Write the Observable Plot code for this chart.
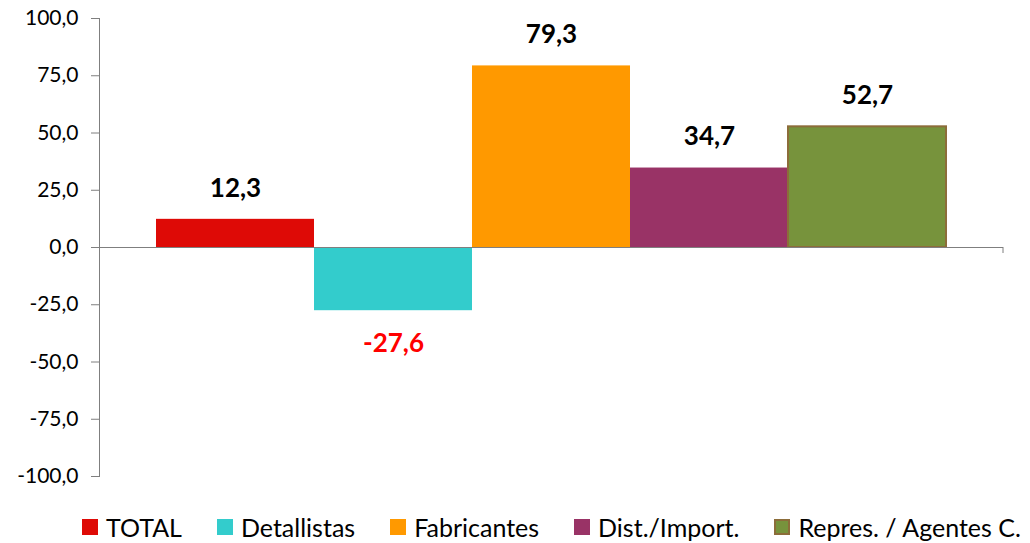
<!DOCTYPE html>
<html>
<head>
<meta charset="utf-8">
<script src="https://cdn.jsdelivr.net/npm/d3@7"></script>
<script src="https://cdn.jsdelivr.net/npm/@observablehq/plot@0.6"></script>
<style>
  html, body { margin: 0; padding: 0; background: #fff; }
  #chart { width: 1030px; }
  .legend { display: flex; align-items: center; height: 53px; margin-top: 10px; padding-left: 82px; font-family: Lato, "Open Sans", sans-serif; font-size: 25px; color: #000; white-space: nowrap; }
  .legend .item { display: flex; align-items: center; margin-right: 35px; }
  .legend .sw { width: 16px; height: 16px; margin-right: 8px; box-sizing: border-box; }
</style>
</head>
<body>
<div id="chart"></div>
<script>
const series = ["TOTAL", "Detallistas", "Fabricantes", "Dist./Import.", "Repres. / Agentes C."];
const values = [12.3, -27.6, 79.3, 34.7, 52.7];
const colors = ["#DE0A06", "#33CCCC", "#FF9900", "#993366", "#77933C"];
const strokes = ["none", "none", "none", "none", "#8C6D3A"];
const labelColors = ["#000", "#FF0000", "#000", "#000", "#000"];
const yTicks = [-100, -75, -50, -25, 0, 25, 50, 75, 100];

const data = series.map((s, i) => ({ s, v: values[i], fill: colors[i], stroke: strokes[i], lc: labelColors[i] }));
const fmt = v => v.toFixed(1).replace(".", ",");

const xRightTick = (index, scales, values, dims) => {
  const g = d3.create("svg:g");
  const x = dims.width - dims.marginRight;
  const y = scales.y(0);
  g.append("line").attr("x1", x).attr("x2", x).attr("y1", y).attr("y2", y + 6).attr("stroke", "#7f7f7f").attr("stroke-width", 1);
  return g.node();
};

const chart = Plot.plot({
  width: 1030,
  height: 490,
  marginLeft: 99,
  marginRight: 27,
  marginTop: 18,
  marginBottom: 14,
  style: { fontFamily: "Lato, 'Open Sans', sans-serif", background: "#fff", color: "#000" },
  x: { domain: series, paddingInner: 0, paddingOuter: 0.35, axis: null },
  y: { domain: [-100, 100], ticks: yTicks, tickFormat: fmt, tickSize: 8, tickPadding: 13, label: null },
  marks: [
    Plot.axisY({ ticks: yTicks, tickFormat: fmt, tickSize: 8, tickPadding: 13, fontSize: 21, label: null, stroke: "#7f7f7f", color: "#000" }),
    Plot.barY(data, { x: "s", y: "v", fill: "fill", stroke: "stroke", strokeWidth: 2, inset: 0 }),
    Plot.frame({ anchor: "left", stroke: "#7f7f7f" }),
    Plot.ruleY([0], { stroke: "#7f7f7f", strokeWidth: 1.2 }),
    xRightTick,
    Plot.text(data.filter(d => d.v >= 0), { x: "s", y: "v", text: d => fmt(d.v), dy: -31, fill: "lc", fontSize: 26, fontWeight: "bold" }),
    Plot.text(data.filter(d => d.v < 0), { x: "s", y: "v", text: d => fmt(d.v), dy: 33, fill: "lc", fontSize: 26, fontWeight: "bold" })
  ]
});
document.getElementById("chart").appendChild(chart);

const legend = document.createElement("div");
legend.className = "legend";
series.forEach((s, i) => {
  const item = document.createElement("div");
  item.className = "item";
  const sw = document.createElement("span");
  sw.className = "sw";
  sw.style.background = colors[i];
  if (strokes[i] !== "none") sw.style.border = "2px solid " + strokes[i];
  const t = document.createElement("span");
  t.textContent = s;
  item.appendChild(sw);
  item.appendChild(t);
  legend.appendChild(item);
});
document.getElementById("chart").appendChild(legend);
</script>
</body>
</html>
